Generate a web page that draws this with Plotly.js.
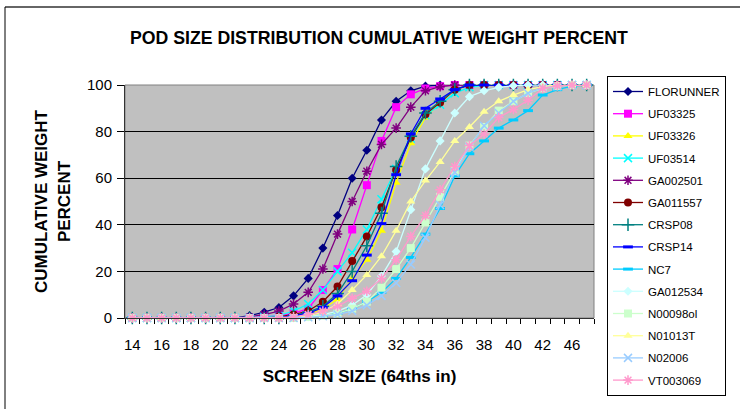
<!DOCTYPE html>
<html>
<head>
<meta charset="utf-8">
<script src="https://cdn.plot.ly/plotly-3.0.1.min.js"></script>
<style>html,body{margin:0;padding:0;background:#fff;}#chart{width:740px;height:409px;}</style>
</head>
<body>
<div id="chart"></div>
<script>
// Screen sizes (64ths in) - category axis
const categories = ['14','15','16','17','18','19','20','21','22','23','24','25','26','27','28','29','30','31','32','33','34','35','36','37','38','39','40','41','42','44','46','48'];
// Tick labels shown on every second category
const tickLabels = ['14','','16','','18','','20','','22','','24','','26','','28','','30','','32','','34','','36','','38','','40','','42','','46',''];

const FLORUNNER = [0,0,0,0,0,0,0,0,1,2.5,4.5,9.5,17,30,44,60,72,85,93,97.5,99.5,100,100,100,100,100,100,100,100,100,100,100];
const UF03325   = [0,0,0,0,0,0,0,0,0,0.5,1,2,4,12,21,38,57,76,90.5,96,98.5,99.5,100,100,100,100,100,100,100,100,100,100];
const UF03326   = [0,0,0,0,0,0,0,0,0,0,0,0.5,1.5,4,8,17,25,37.5,58,75,86,92.5,98,100,100,100,100,100,100,100,100,100];
const UF03514   = [0,0,0,0,0,0,0,0,0,0.5,1,3,6,12,20,28,38,51,64,77,87,91.5,96.5,99,100,100,100,100,100,100,100,100];
const GA002501  = [0,0,0,0,0,0,0,0,0.5,1.5,3,6,11,21,36,50,63,74.5,81.5,90.5,97.5,99.3,100,100,100,100,100,100,100,100,100,100];
const GA011557  = [0,0,0,0,0,0,0,0,0,0,0.5,1.5,3,7,13.5,24.5,35,47.5,63.5,77.5,87.5,92.5,98,100,100,100,100,100,100,100,100,100];
const CRSP08    = [0,0,0,0,0,0,0,0,0,0,0,1,2.5,5,10.5,20,31,45,65,78,88,93,98,100,100,100,100,100,100,100,100,100];
const CRSP14    = [0,0,0,0,0,0,0,0,0,0,0,1,2,4.5,9.5,16,27,40.5,61.5,79,90,94,98,100,100,100,100,100,100,100,100,100];
const NC7       = [0,0,0,0,0,0,0,0,0,0,0,0,0.5,1,2,4,7,11,17,26,36,47,61,70.5,76,81.5,85,89,95.7,98,99.5,100];
const GA012534  = [0,0,0,0,0,0,0,0,0,0,0,0,0.5,1.5,3,5.5,10,18,28.5,46.5,64,76,88,95,97.5,99,99.7,100,100,100,100,100];
const N00098ol  = [0,0,0,0,0,0,0,0,0,0,0,0,0.5,1,2,4,7,13,21,30,41,52,63,74,82,89,93,96.5,98.6,99.5,100,100];
const N01013T   = [0,0,0,0,0,0,0,0,0,0,0,0,1,2.5,6,12,18.5,26.5,37.5,50,59,67,76,82,88.5,93,95.7,98,99.3,100,100,100];
const N02006    = [0,0,0,0,0,0,0,0,0,0,0,0,0.3,0.8,1.5,3,5.5,9.5,15,23,34.5,48.5,62.5,73.5,82.5,88,93,96.5,98.8,99.5,100,100];
const VT003069  = [0,0,0,0,0,0,0,0,0,0,0,0.5,1.5,3,5,8.5,11.5,17,25,35,44,55,65,74,79,86,89.5,93.5,98.5,99.7,100,100];

const seriesNames = ['FLORUNNER','UF03325','UF03326','UF03514','GA002501','GA011557','CRSP08','CRSP14','NC7','GA012534','N00098ol','N01013T','N02006','VT003069'];
const seriesValues = [FLORUNNER,UF03325,UF03326,UF03514,GA002501,GA011557,CRSP08,CRSP14,NC7,GA012534,N00098ol,N01013T,N02006,VT003069];

const styles = [
  {color:'#000080', symbol:'diamond', size:7, open:false},
  {color:'#FF00FF', symbol:'square', size:8, open:false},
  {color:'#FFFF00', symbol:'triangle-up', size:8, open:false},
  {color:'#00FFFF', symbol:'x-thin-open', size:8, open:true, lw:1.5},
  {color:'#800080', symbol:'asterisk-open', size:8, open:true, lw:1.5},
  {color:'#800000', symbol:'circle', size:8, open:false},
  {color:'#008080', symbol:'cross-thin-open', size:9, open:true, lw:1.5},
  {color:'#0000FF', symbol:'line-ew-open', size:7, open:true, lw:3},
  {color:'#00CCFF', symbol:'line-ew-open', size:7, open:true, lw:3},
  {color:'#CCFFFF', symbol:'diamond', size:7, open:false},
  {color:'#CCFFCC', symbol:'square', size:8, open:false},
  {color:'#FFFF99', symbol:'triangle-up', size:8, open:false},
  {color:'#99CCFF', symbol:'x-thin-open', size:8, open:true, lw:1.5},
  {color:'#FF99CC', symbol:'asterisk-open', size:8, open:true, lw:1.5}
];

const traces = seriesNames.map((name, k) => {
  const s = styles[k];
  return {
    type:'scatter', mode:'lines+markers', name:name, legendgroup:name,
    x: categories, y: seriesValues[k], cliponaxis:false,
    line:{color:s.color, width:1.3},
    marker:{symbol:s.symbol, size:s.size, color:s.color,
            line:{color:s.color, width: s.open ? s.lw : 0}}
  };
});

// pixel helpers for frame shapes (plot area: x 125..594, y 85..318)
const L = 125, R = 594, T = 85, B = 318;
const px = v => (v - L) / (R - L);
const py = v => (B - v) / (B - T);

const layout = {
  width:740, height:409,
  margin:{l:L, r:740-R, t:T, b:409-B, pad:0},
  paper_bgcolor:'#ffffff', plot_bgcolor:'#C0C0C0',
  font:{family:'Liberation Sans, Arial, sans-serif', color:'#000', size:15},
  title:{text:'POD SIZE DISTRIBUTION CUMULATIVE WEIGHT PERCENT', font:{size:17.7, family:'Liberation Sans, Arial, sans-serif', weight:'bold'}, x:0.512, xanchor:'center', y:0.908, yanchor:'middle'},
  showlegend:true,
  legend:{x:px(607), xanchor:'left', y:py(76), yanchor:'top', bgcolor:'#ffffff', bordercolor:'#000', borderwidth:1,
          font:{size:11.5, family:'Liberation Sans, Arial, sans-serif'}, traceorder:'grouped', tracegroupgap:3.2,
          itemwidth:30, maxheight:400},
  xaxis:{type:'category', range:[-0.5, 31.5], tickmode:'array', tickvals:categories, ticktext:tickLabels,
         tickson:'boundaries', ticks:'outside', ticklen:5, tickcolor:'#000', tickwidth:1, tickangle:0,
         ticklabelstandoff:13,
         showline:true, linecolor:'#333', linewidth:1, showgrid:false, zeroline:false,
         tickfont:{size:15},
         title:{text:'SCREEN SIZE (64ths in)', font:{size:17, weight:'bold'}, standoff:18}},
  yaxis:{range:[0,100], tickmode:'array', tickvals:[0,20,40,60,80,100], ticks:'outside', ticklen:7, tickcolor:'#000',
         showline:true, linecolor:'#333', linewidth:1, showgrid:true, gridcolor:'#000', gridwidth:1, zeroline:false,
         tickfont:{size:15}, ticklabelstandoff:2,
         title:{text:'CUMULATIVE WEIGHT<br>PERCENT', font:{size:17, weight:'bold'}, standoff:12}},
  shapes:[
    {type:'rect', xref:'paper', yref:'paper', x0:0, x1:1, y0:0, y1:1, line:{color:'#808080', width:1}, layer:'below'},
    {type:'line', xref:'paper', yref:'paper', x0:px(5), x1:px(760), y0:py(7), y1:py(7), line:{color:'#333', width:1.5}},
    {type:'line', xref:'paper', yref:'paper', x0:px(5), x1:px(5), y0:py(7), y1:py(430), line:{color:'#000', width:1}}
  ]
};

Plotly.newPlot('chart', traces, layout, {displayModeBar:false, staticPlot:true});
</script>
</body>
</html>
